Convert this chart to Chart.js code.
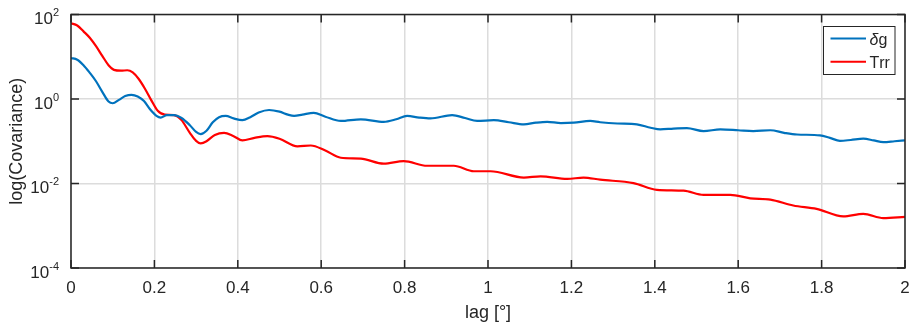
<!DOCTYPE html>
<html>
<head>
<meta charset="utf-8">
<script src="https://cdn.jsdelivr.net/npm/chart.js@4.4.1/dist/chart.umd.min.js"></script>
<style>
  html, body { margin: 0; padding: 0; background: #fff; }
  #wrap { width: 909px; height: 328px; }
</style>
</head>
<body>
<div id="wrap"><canvas id="myChart" width="909" height="328"></canvas></div>
<script>
// Valores (exponente log10 de la covarianza)
const lagDeltaG = [0, 0.015, 0.03, 0.045, 0.06, 0.075, 0.09, 0.1, 0.115, 0.13, 0.145, 0.16, 0.175, 0.19, 0.205, 0.215,
  0.23, 0.247, 0.265, 0.285, 0.3, 0.311, 0.325, 0.34, 0.355, 0.371, 0.39, 0.411, 0.43, 0.45, 0.475, 0.5, 0.52,
  0.535, 0.555, 0.582, 0.61, 0.647, 0.695, 0.75, 0.78, 0.806, 0.835, 0.862, 0.914, 0.945, 0.974, 1.014, 1.05,
  1.086, 1.115, 1.142, 1.175, 1.206, 1.245, 1.269, 1.31, 1.357, 1.39, 1.413, 1.445, 1.477, 1.517, 1.557, 1.6,
  1.636, 1.677, 1.71, 1.741, 1.796, 1.82, 1.844, 1.87, 1.9, 1.925, 1.948, 1.975, 2];
const logDeltaG = [0.97, 0.93, 0.8, 0.62, 0.42, 0.17, -0.06, -0.1, -0.02, 0.07, 0.1, 0.06, -0.05, -0.25, -0.4, -0.44,
  -0.38, -0.38, -0.45, -0.62, -0.78, -0.83, -0.75, -0.55, -0.43, -0.4, -0.46, -0.5, -0.43, -0.32, -0.26, -0.3, -0.37,
  -0.4, -0.37, -0.33, -0.42, -0.52, -0.48, -0.54, -0.48, -0.4, -0.44, -0.46, -0.38, -0.45, -0.52, -0.5, -0.55,
  -0.6, -0.56, -0.54, -0.57, -0.56, -0.52, -0.55, -0.58, -0.6, -0.68, -0.72, -0.7, -0.69, -0.76, -0.72, -0.74,
  -0.76, -0.74, -0.8, -0.84, -0.86, -0.92, -0.99, -0.97, -0.94, -0.98, -1.02, -1.0, -0.98];

const lagTrr = [0, 0.015, 0.03, 0.045, 0.06, 0.075, 0.09, 0.103, 0.12, 0.135, 0.148, 0.162, 0.177, 0.192, 0.208, 0.225,
  0.247, 0.265, 0.285, 0.3, 0.311, 0.325, 0.345, 0.367, 0.39, 0.411, 0.44, 0.471, 0.5, 0.543, 0.575, 0.61, 0.647,
  0.695, 0.75, 0.798, 0.854, 0.918, 0.966, 1.006, 1.086, 1.126, 1.19, 1.229, 1.269, 1.349, 1.405, 1.469, 1.517,
  1.581, 1.629, 1.677, 1.732, 1.788, 1.852, 1.9, 1.948, 2];
const logTrr = [1.79, 1.74, 1.6, 1.45, 1.25, 1.02, 0.8, 0.69, 0.67, 0.68, 0.63, 0.48, 0.25, -0.02, -0.28, -0.37,
  -0.38, -0.5, -0.8, -0.99, -1.05, -1.0, -0.85, -0.8, -0.88, -0.98, -0.92, -0.88, -0.94, -1.12, -1.1, -1.22, -1.39,
  -1.41, -1.53, -1.47, -1.58, -1.58, -1.71, -1.71, -1.86, -1.83, -1.89, -1.86, -1.91, -1.99, -2.15, -2.17, -2.27,
  -2.27, -2.35, -2.38, -2.52, -2.6, -2.78, -2.72, -2.82, -2.79];

const yTickExps = [2, 0, -2, -4];
const xTicks = [0, 0.2, 0.4, 0.6, 0.8, 1, 1.2, 1.4, 1.6, 1.8, 2];

const FONT = '"Liberation Sans", Arial, Helvetica, sans-serif';
const INK = '#262626';

function toPoints(xs, exps) {
  return xs.map((x, i) => ({ x: x, y: Math.pow(10, exps[i]) }));
}

// Marco, marcas interiores, etiquetas 10^n y leyenda al estilo MATLAB
const matlabAxes = {
  id: 'matlabAxes',
  afterDraw(chart) {
    const { ctx, chartArea: a, scales } = chart;
    const xs = scales.x, ys = scales.y;
    ctx.save();
    ctx.strokeStyle = INK;
    ctx.lineWidth = 1.5;
    ctx.strokeRect(a.left, a.top, a.right - a.left, a.bottom - a.top);

    // marcas hacia dentro
    ctx.beginPath();
    xTicks.forEach(v => {
      const px = xs.getPixelForValue(v);
      ctx.moveTo(px, a.bottom); ctx.lineTo(px, a.bottom - 8);
      ctx.moveTo(px, a.top); ctx.lineTo(px, a.top + 8);
    });
    yTickExps.forEach(e => {
      const py = ys.getPixelForValue(Math.pow(10, e));
      ctx.moveTo(a.left, py); ctx.lineTo(a.left + 8, py);
      ctx.moveTo(a.right, py); ctx.lineTo(a.right - 8, py);
    });
    ctx.stroke();

    // etiquetas del eje y con exponente
    ctx.fillStyle = INK;
    ctx.textAlign = 'right';
    ctx.textBaseline = 'alphabetic';
    const rightEdge = a.left - 12;
    yTickExps.forEach(e => {
      const py = ys.getPixelForValue(Math.pow(10, e));
      const expText = String(e);
      ctx.font = '11px ' + FONT;
      const w = ctx.measureText(expText).width;
      ctx.fillText(expText, rightEdge, py + 1.5);
      ctx.font = '17px ' + FONT;
      ctx.fillText('10', rightEdge - w, py + 9.5);
    });

    // leyenda
    const bx = a.right - 82, by = a.top + 11.5, bw = 71.5, bh = 48;
    ctx.fillStyle = '#fff';
    ctx.fillRect(bx, by, bw, bh);
    ctx.lineWidth = 1;
    ctx.strokeStyle = INK;
    ctx.strokeRect(bx + 0.5, by + 0.5, bw, bh);
    ctx.textAlign = 'left';
    chart.data.datasets.forEach((ds, i) => {
      const ly = by + 12.5 + i * 23.3;
      ctx.strokeStyle = ds.borderColor;
      ctx.lineWidth = 2;
      ctx.beginPath();
      ctx.moveTo(bx + 7.5, ly); ctx.lineTo(bx + 43, ly);
      ctx.stroke();
      ctx.fillStyle = INK;
      let tx = bx + 46.5;
      [...ds.label].forEach(ch => {
        ctx.font = (/[\u0370-\u03ff]/.test(ch) ? 'italic ' : '') + '16px ' + FONT;
        ctx.fillText(ch, tx, ly + 6);
        tx += ctx.measureText(ch).width;
      });
    });
    ctx.restore();
  }
};

function renderChart() {
  const ctx = document.getElementById('myChart').getContext('2d');
  new Chart(ctx, {
    type: 'line',
    data: {
      datasets: [
        { label: 'δg', data: toPoints(lagDeltaG, logDeltaG), borderColor: '#0072BD', borderWidth: 2.2 },
        { label: 'Trr', data: toPoints(lagTrr, logTrr), borderColor: '#FF0000', borderWidth: 2.2 }
      ]
    },
    options: {
      responsive: false,
      animation: false,
      layout: { padding: { left: 0, right: 4, top: 14.5, bottom: 0 } },
      elements: { point: { radius: 0 }, line: { cubicInterpolationMode: 'monotone' } },
      plugins: { legend: { display: false }, tooltip: { enabled: false } },
      scales: {
        x: {
          type: 'linear', min: 0, max: 2,
          afterBuildTicks: s => { s.ticks = xTicks.map(v => ({ value: v })); },
          afterFit: s => { s.height = 60; s.paddingLeft = 0; s.paddingRight = 0; },
          ticks: {
            color: INK, padding: 10, maxRotation: 0,
            font: { family: FONT, size: 17 },
            callback: v => String(Number(v.toFixed(1)))
          },
          grid: { color: '#dcdcdc', lineWidth: 1.5, drawTicks: false },
          border: { display: false },
          title: { display: true, text: 'lag [°]', color: INK, font: { family: FONT, size: 18 }, padding: { top: 0, bottom: 4 } }
        },
        y: {
          type: 'logarithmic', min: 1e-4, max: 1e2,
          afterBuildTicks: s => { s.ticks = yTickExps.map(e => ({ value: Math.pow(10, e) })); },
          afterFit: s => { s.width = 71; },
          ticks: { display: false },
          grid: { color: '#dcdcdc', lineWidth: 1.5, drawTicks: false },
          border: { display: false },
          title: { display: true, text: 'log(Covariance)', color: INK, font: { family: FONT, size: 18 }, padding: { top: 6, bottom: 0 } }
        }
      }
    },
    plugins: [matlabAxes]
  });
}

renderChart();
</script>
</body>
</html>
